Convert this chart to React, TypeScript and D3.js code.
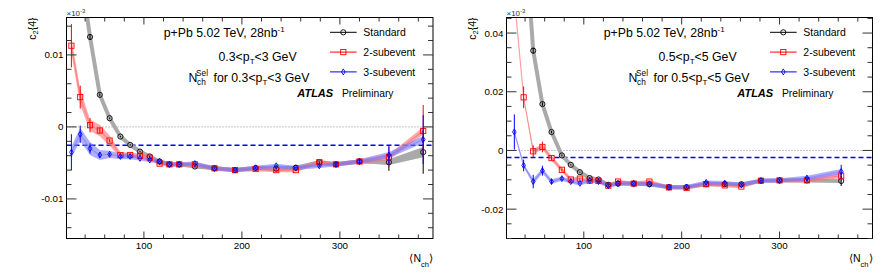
import React from 'react';
import * as d3 from 'd3';

// ---------- data ----------
const nchLeft = [26, 35, 45, 55, 65, 76, 86, 96, 106, 116, 126, 136, 152, 172, 193, 214, 235, 255, 279, 296, 320, 350, 385];
const stdLeft = [0.05, 0.022, 0.0125, 0.00446, 0.00121, -0.00134, -0.0025, -0.00343, -0.0041, -0.0048, -0.0052, -0.0052, -0.0055, -0.00575, -0.006, -0.0057, -0.0058, -0.00566, -0.0049, -0.0052, -0.0048, -0.0049, -0.0035];
const stdLeftErr = [0.001, 0.0008, 0.0004, 0.0002, 0.0001, 0.0001, 0.0001, 0.0001, 0.0001, 0.0001, 0.0001, 0.0001, 0.0001, 0.0001, 0.0001, 0.0001, 0.0001, 0.0001, 0.0002, 0.0002, 0.0003, 0.0012, 0.003];
const stdLeftSys = [0.001, 0.001, 0.0006, 0.0004, 0.0003, 0.0003, 0.0003, 0.0003, 0.0002, 0.0002, 0.0002, 0.0002, 0.0002, 0.0002, 0.0002, 0.0002, 0.0002, 0.0002, 0.0002, 0.0002, 0.0002, 0.0004, 0.0007];
const sub2Left = [0.01128, 0.00414, 0.00024, -0.0005, -0.0019, -0.0039, -0.0039, -0.004, -0.00427, -0.0051, -0.0052, -0.0052, -0.0052, -0.00575, -0.006, -0.00585, -0.006, -0.006, -0.0049, -0.0052, -0.0048, -0.0042, -0.00056];
const sub2LeftErr = [0.003, 0.0016, 0.001, 0.0004, 0.0002, 0.0001, 0.0001, 0.0001, 0.0001, 0.0001, 0.0001, 0.0001, 0.0001, 0.0001, 0.0001, 0.0001, 0.0001, 0.0001, 0.0002, 0.0002, 0.0003, 0.0014, 0.0036];
const sub2LeftSys = [0.0011, 0.0011, 0.0008, 0.0008, 0.0007, 0.0004, 0.0003, 0.0003, 0.0003, 0.0003, 0.0003, 0.0003, 0.0003, 0.0003, 0.0003, 0.0003, 0.0003, 0.0003, 0.0003, 0.0003, 0.0003, 0.0004, 0.0005];
const sub3Left = [-0.00352, -0.00102, -0.003, -0.0039, -0.0038, -0.0041, -0.0041, -0.00436, -0.0046, -0.0048, -0.0052, -0.0052, -0.0051, -0.00575, -0.006, -0.0057, -0.0054, -0.0057, -0.0054, -0.0052, -0.0048, -0.0039, -0.00175];
const sub3LeftErr = [0.0025, 0.0012, 0.0007, 0.0004, 0.0002, 0.0001, 0.0001, 0.0001, 0.0001, 0.0001, 0.0001, 0.0001, 0.0001, 0.0001, 0.0001, 0.0001, 0.0001, 0.0001, 0.0002, 0.0002, 0.0003, 0.0014, 0.0034];
const sub3LeftSys = [0.0008, 0.0009, 0.0009, 0.0007, 0.0005, 0.0004, 0.0004, 0.0003, 0.0003, 0.0003, 0.0003, 0.0003, 0.0003, 0.0003, 0.0003, 0.0003, 0.0003, 0.0003, 0.0003, 0.0003, 0.0003, 0.0004, 0.0005];

const nchRight = [29, 38.5, 48.3, 57.7, 67, 77.6, 86.7, 96, 106, 115, 125, 135, 151, 167, 187, 205, 225, 244, 261, 281, 300, 328, 363];
const stdRight = [0.15, 0.08, 0.034, 0.0158, 0.00627, -0.0017, -0.0049, -0.0074, -0.0094, -0.0099, -0.0117, -0.0113, -0.0113, -0.0115, -0.0125, -0.0125, -0.0115, -0.0115, -0.0115, -0.0103, -0.0102, -0.0102, -0.0104];
const stdRightErr = [0.002, 0.002, 0.001, 0.0006, 0.0004, 0.0003, 0.0002, 0.0002, 0.0002, 0.0002, 0.0002, 0.0002, 0.0002, 0.0002, 0.0002, 0.0002, 0.0002, 0.0002, 0.0002, 0.0003, 0.0003, 0.0005, 0.0017];
const stdRightSys = [0.002, 0.002, 0.002, 0.0015, 0.001, 0.0008, 0.0006, 0.0005, 0.0004, 0.0004, 0.0003, 0.0003, 0.0003, 0.0003, 0.0003, 0.0003, 0.0003, 0.0003, 0.0003, 0.0003, 0.0003, 0.0004, 0.0005];
const sub2Right = [0.052, 0.0181, -0.0003, 0.0012, -0.0026, -0.0066, -0.0099, -0.0096, -0.0103, -0.0104, -0.012, -0.0106, -0.0113, -0.0106, -0.0126, -0.0128, -0.0115, -0.0119, -0.0123, -0.0103, -0.0102, -0.0102, -0.0086];
const sub2RightErr = [0.004, 0.0037, 0.002, 0.0018, 0.0008, 0.0005, 0.0004, 0.0003, 0.0003, 0.0003, 0.0003, 0.0003, 0.0003, 0.0003, 0.0003, 0.0003, 0.0003, 0.0003, 0.0003, 0.0003, 0.0003, 0.0005, 0.0015];
const sub2RightSys = [0.0004, 0.0004, 0.0009, 0.0009, 0.0009, 0.0008, 0.0007, 0.0006, 0.0006, 0.0006, 0.0006, 0.0006, 0.0006, 0.0006, 0.0006, 0.0006, 0.0006, 0.0006, 0.0006, 0.0006, 0.0006, 0.0007, 0.0008];
const sub3Right = [0.0063, -0.0051, -0.0106, -0.0069, -0.0106, -0.0096, -0.0106, -0.0112, -0.0103, -0.0106, -0.012, -0.0113, -0.0113, -0.0115, -0.0125, -0.0125, -0.0109, -0.0111, -0.0117, -0.0103, -0.0102, -0.0094, -0.0072];
const sub3RightErr = [0.006, 0.002, 0.0023, 0.0017, 0.0008, 0.0006, 0.0004, 0.0003, 0.0003, 0.0003, 0.0003, 0.0003, 0.0003, 0.0003, 0.0003, 0.0003, 0.0003, 0.0003, 0.0003, 0.0003, 0.0003, 0.0006, 0.0023];
const sub3RightSys = [0.0004, 0.0006, 0.0009, 0.0009, 0.0008, 0.0007, 0.0007, 0.0007, 0.0007, 0.0007, 0.0007, 0.0007, 0.0007, 0.0007, 0.0007, 0.0007, 0.0007, 0.0007, 0.0007, 0.0007, 0.0007, 0.0008, 0.0009];

const xDomain = [21, 395];
const xMajorTicks = [100, 200, 300];
const leftYDomain = [-0.0155, 0.0152];
const leftYMajor = [-0.01, 0, 0.01];
const leftYLabels = ['-0.01', '0', '0.01'];
const rightYDomain = [-0.03, 0.0453];
const rightYMajor = [-0.02, 0, 0.02, 0.04];
const rightYLabels = ['-0.02', '0', '0.02', '0.04'];
const leftDashed = -0.00255;
const rightDashed = -0.0024;
const legendLabels = ['Standard', '2-subevent', '3-subevent'];

const FONT = '"Liberation Sans", Arial, Helvetica, sans-serif';

type Series = { n: number[]; v: number[]; e: number[]; s: number[] };

function zip(s: Series) {
  return s.n.map((n, i) => ({ n, v: s.v[i], e: s.e[i], s: s.s[i] }));
}

function Marker({ kind, cx, cy }: { kind: number; cx: number; cy: number }) {
  if (kind === 0) return <circle cx={cx} cy={cy} r={2.6} fill="none" stroke="#000" strokeWidth={0.9} />;
  if (kind === 1) return <rect x={cx - 2.6} y={cy - 2.6} width={5.2} height={5.2} fill="none" stroke="#ff0000" strokeWidth={0.9} />;
  return <path d={`M${cx},${cy - 3}L${cx + 1.8},${cy}L${cx},${cy + 3}L${cx - 1.8},${cy}Z`} fill="none" stroke="#0000ff" strokeWidth={0.9} />;
}

function Panel(props: {
  id: string;
  fl: number; fr: number; ft: number; fb: number;
  yDomain: number[]; yMajor: number[]; yLabels: string[]; yMinorStep: number;
  dashed: number; series: Series[]; ptLabel: string;
}) {
  const { id, fl, fr, ft, fb, yDomain, yMajor, yLabels, yMinorStep, dashed, series, ptLabel } = props;
  const x = d3.scaleLinear().domain(xDomain).range([fl, fr]);
  const y = d3.scaleLinear().domain(yDomain).range([fb, ft]);
  const dx = fl - 66.5;
  const xMinor = d3.range(40, 395, 20).filter((v) => !xMajorTicks.includes(v));
  const yMinor: number[] = [];
  for (let k = Math.ceil(yDomain[0] / yMinorStep); k * yMinorStep <= yDomain[1]; k++) {
    const v = +(k * yMinorStep).toFixed(6);
    if (!yMajor.some((m) => Math.abs(m - v) < 1e-9)) yMinor.push(v);
  }
  const bandColors = ['#aaaaaa', 'rgba(255,110,110,0.6)', 'rgba(120,120,255,0.6)'];
  const lineColors = ['#000000', '#ff0000', '#0000ff'];
  const area = d3.area<any>().x((d) => x(d.n)).y0((d) => y(d.v - d.s)).y1((d) => y(d.v + d.s));
  const line = d3.line<any>().x((d) => x(d.n)).y((d) => y(d.v));
  const pts = series.map(zip);

  return (
    <g>
      <defs>
        <clipPath id={`clip-${id}`}>
          <rect x={fl} y={ft} width={fr - fl} height={fb - ft} />
        </clipPath>
      </defs>
      <g clipPath={`url(#clip-${id})`}>
        <line x1={fl} x2={fr} y1={y(0)} y2={y(0)} stroke="#888" strokeWidth={1} strokeDasharray="1,2" />
        <line x1={fl} x2={fr} y1={y(dashed)} y2={y(dashed)} stroke="#0000ff" strokeWidth={1.4} strokeDasharray="5,3" />
        {pts.map((p, i) => (
          <g key={'b' + i}>
            <path d={area(p) || ''} fill={bandColors[i]} stroke="none" />
            <path d={line(p) || ''} fill="none" stroke={bandColors[i]} strokeWidth={i === 0 ? 4 : 1.2} strokeLinejoin="round" />
          </g>
        ))}
        {pts.map((p, i) => (
          <g key={'m' + i}>
            {p.map((d, j) => (
              <g key={j}>
                <line x1={x(d.n)} x2={x(d.n)} y1={y(d.v - d.e)} y2={y(d.v + d.e)} stroke={lineColors[i]} strokeWidth={1} />
                <Marker kind={i} cx={x(d.n)} cy={y(d.v)} />
              </g>
            ))}
          </g>
        ))}
      </g>
      {/* frame */}
      <rect x={fl} y={ft} width={fr - fl} height={fb - ft} fill="none" stroke="#000" strokeWidth={1} />
      {/* x ticks */}
      {xMajorTicks.map((t) => (
        <g key={'xt' + t}>
          <line x1={x(t)} x2={x(t)} y1={fb} y2={fb - 7} stroke="#333" />
          <line x1={x(t)} x2={x(t)} y1={ft} y2={ft + 7} stroke="#333" />
          <text x={x(t)} y={249} textAnchor="middle" fontSize={9.8} fontFamily={FONT}>{t}</text>
        </g>
      ))}
      {xMinor.map((t) => (
        <g key={'xm' + t}>
          <line x1={x(t)} x2={x(t)} y1={fb} y2={fb - 4} stroke="#333" />
          <line x1={x(t)} x2={x(t)} y1={ft} y2={ft + 4} stroke="#333" />
        </g>
      ))}
      {yMajor.map((t, i) => (
        <g key={'yt' + t}>
          <line x1={fl} x2={fl + 10} y1={y(t)} y2={y(t)} stroke="#333" />
          <line x1={fr} x2={fr - 10} y1={y(t)} y2={y(t)} stroke="#333" />
          <text x={fl - 3} y={y(t) + 3.5} textAnchor="end" fontSize={9.8} fontFamily={FONT}>{yLabels[i]}</text>
        </g>
      ))}
      {yMinor.map((t) => (
        <g key={'ym' + t}>
          <line x1={fl} x2={fl + 5} y1={y(t)} y2={y(t)} stroke="#333" />
          <line x1={fr} x2={fr - 5} y1={y(t)} y2={y(t)} stroke="#333" />
        </g>
      ))}
      {/* axis titles */}
      <text x={fl} y={16} fontSize={8} fill="#333" fontFamily={FONT}>
        ×10<tspan dy={-3.5} fontSize={6}>-3</tspan>
      </text>
      <text transform={`translate(${fl - 31},${ft}) rotate(-90)`} textAnchor="end" fontSize={10.5} fontFamily={FONT}>
        c<tspan dy={2.5} fontSize={7.5}>2</tspan><tspan dy={-2.5}>{'{4}'}</tspan>
      </text>
      <text x={fr} y={262} textAnchor="end" fontSize={10.5} fontFamily={FONT}>
        ⟨N<tspan dy={5} fontSize={7.5}>ch</tspan><tspan dy={-5}>⟩</tspan>
      </text>
      {/* annotations */}
      <text x={163.7 + dx} y={36.5} fontSize={12.3} fontFamily={FONT}>
        p+Pb 5.02 TeV, 28nb<tspan dy={-5} fontSize={8}>-1</tspan>
      </text>
      <text x={218.5 + dx} y={60.5} fontSize={12.3} fontFamily={FONT}>
        {ptLabel[0]}&lt;p<tspan dy={3.5} fontSize={8}>T</tspan><tspan dy={-3.5}>&lt;{ptLabel[1]} GeV</tspan>
      </text>
      <text x={188.5 + dx} y={81.5} fontSize={12.3} fontFamily={FONT}>N</text>
      <text x={196 + dx} y={76} fontSize={8.3} fontFamily={FONT}>Sel</text>
      <text x={197 + dx} y={85} fontSize={8.3} fontFamily={FONT}>ch</text>
      <text x={213.5 + dx} y={81.5} fontSize={12.3} fontFamily={FONT}>
        for {ptLabel[0]}&lt;p<tspan dy={3.5} fontSize={8}>T</tspan><tspan dy={-3.5}>&lt;{ptLabel[1]} GeV</tspan>
      </text>
      <text x={297.3 + dx} y={97} fontSize={11} fontWeight="bold" fontStyle="italic" fontFamily={FONT}>ATLAS</text>
      <text x={342 + dx} y={97} fontSize={10.3} fontFamily={FONT}>Preliminary</text>
      {/* legend */}
      {legendLabels.map((lab, i) => {
        const ly = 32.3 + i * 19.8;
        return (
          <g key={lab}>
            <line x1={330 + dx} x2={356.7 + dx} y1={ly} y2={ly} stroke={lineColors[i]} strokeWidth={1} />
            <Marker kind={i} cx={343.3 + dx} cy={ly} />
            <text x={363.3 + dx} y={ly + 3.8} fontSize={10.5} fontFamily={FONT}>{lab}</text>
          </g>
        );
      })}
    </g>
  );
}

export default function App() {
  const leftSeries: Series[] = [
    { n: nchLeft, v: stdLeft, e: stdLeftErr, s: stdLeftSys },
    { n: nchLeft, v: sub2Left, e: sub2LeftErr, s: sub2LeftSys },
    { n: nchLeft, v: sub3Left, e: sub3LeftErr, s: sub3LeftSys },
  ];
  const rightSeries: Series[] = [
    { n: nchRight, v: stdRight, e: stdRightErr, s: stdRightSys },
    { n: nchRight, v: sub2Right, e: sub2RightErr, s: sub2RightSys },
    { n: nchRight, v: sub3Right, e: sub3RightErr, s: sub3RightSys },
  ];
  return (
    <svg width={881} height={272} style={{ position: 'absolute', left: 0, top: 0, background: '#fff' }}>
      <rect width={881} height={272} fill="#fff" />
      <Panel id="l" fl={66.5} fr={433} ft={17.5} fb={238.5} yDomain={leftYDomain} yMajor={leftYMajor} yLabels={leftYLabels}
        yMinorStep={0.002} dashed={leftDashed} series={leftSeries} ptLabel={['0.3', '3']} />
      <Panel id="r" fl={506.5} fr={872.5} ft={17.5} fb={238.5} yDomain={rightYDomain} yMajor={rightYMajor} yLabels={rightYLabels}
        yMinorStep={0.005} dashed={rightDashed} series={rightSeries} ptLabel={['0.5', '5']} />
    </svg>
  );
}
